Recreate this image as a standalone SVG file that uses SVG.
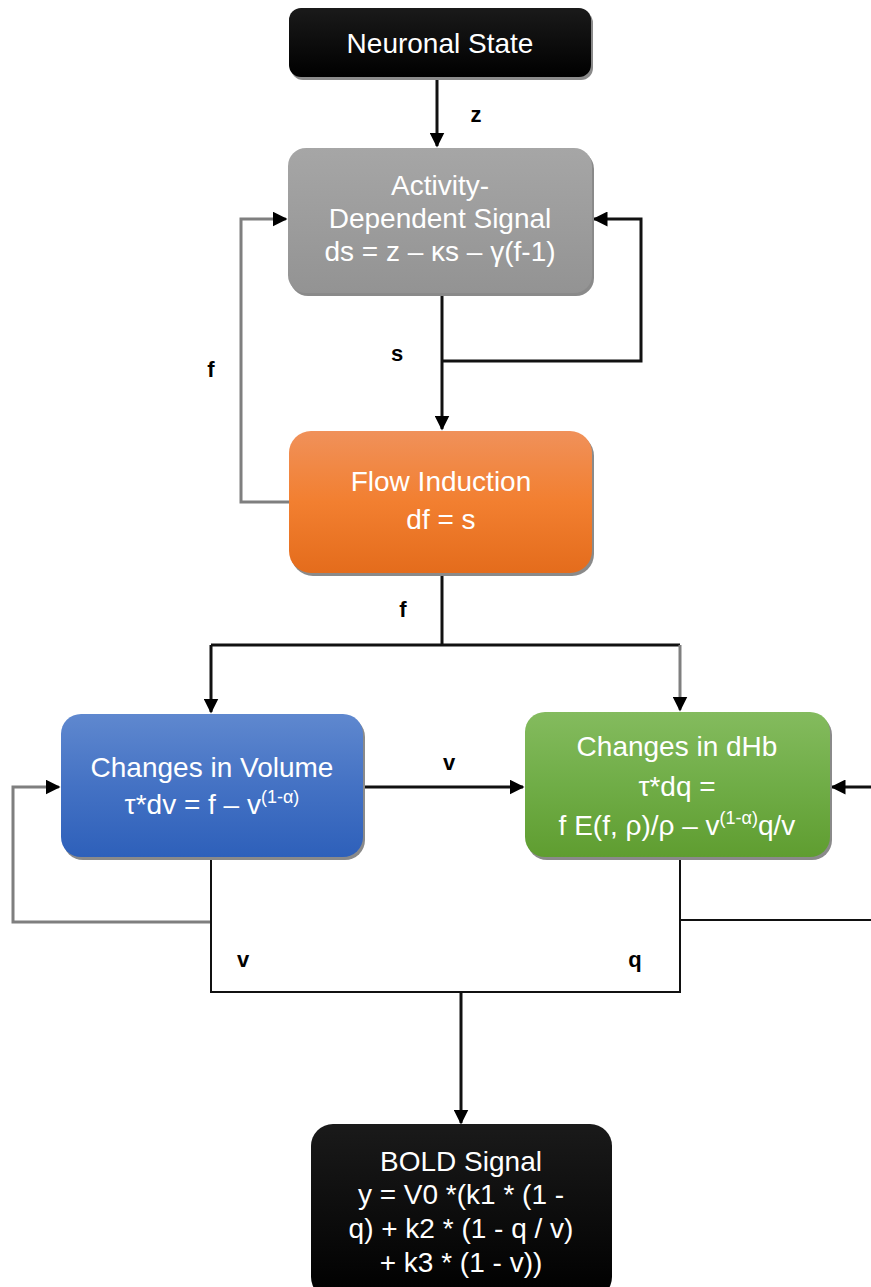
<svg xmlns="http://www.w3.org/2000/svg" width="871" height="1287" viewBox="0 0 871 1287">
<style>
.t{font-family:"Liberation Sans",Arial,sans-serif;font-size:28px;fill:#fff;text-anchor:middle}
.l{font-family:"Liberation Sans",Arial,sans-serif;font-size:22px;font-weight:bold;fill:#000;text-anchor:middle}
.c{fill:none;stroke:#111;stroke-width:3}
.g{fill:none;stroke:#7f7f7f;stroke-width:3}
.th{fill:none;stroke:#111;stroke-width:2}
.sh{fill:#8a8a8a}
</style>
<defs>
<marker id="a" viewBox="0 0 10 10" refX="9" refY="5" markerWidth="5" markerHeight="5" orient="auto" markerUnits="strokeWidth"><path d="M0,0L10,5L0,10z" fill="#000"/></marker>
<linearGradient id="gk" x1="0" y1="0" x2="0" y2="1"><stop offset="0" stop-color="#1a1a1a"/><stop offset="1" stop-color="#000"/></linearGradient>
<linearGradient id="gg" x1="0" y1="0" x2="0" y2="1"><stop offset="0" stop-color="#a6a6a6"/><stop offset="1" stop-color="#939393"/></linearGradient>
<linearGradient id="go" x1="0" y1="0" x2="0" y2="1"><stop offset="0" stop-color="#f0915a"/><stop offset="0.5" stop-color="#f27f30"/><stop offset="1" stop-color="#e46c1c"/></linearGradient>
<linearGradient id="gb" x1="0" y1="0" x2="0" y2="1"><stop offset="0" stop-color="#5f88cf"/><stop offset="0.5" stop-color="#4472c4"/><stop offset="1" stop-color="#2e60ba"/></linearGradient>
<linearGradient id="gn" x1="0" y1="0" x2="0" y2="1"><stop offset="0" stop-color="#84bb5e"/><stop offset="0.5" stop-color="#70ad47"/><stop offset="1" stop-color="#5f9d30"/></linearGradient>
</defs>
<g id="connectors">
<path class="c" d="M437,77V146" marker-end="url(#a)"/>
<path class="c" d="M442,293V429" marker-end="url(#a)"/>
<path class="c" d="M442,361H641V219H594" marker-end="url(#a)"/>
<path class="g" d="M290,502H241V219H286" marker-end="url(#a)"/>
<path class="c" d="M442,573V645"/>
<path class="c" d="M211,645H680"/>
<path class="c" d="M211,645V712" marker-end="url(#a)"/>
<path class="g" d="M680,645V710" marker-end="url(#a)"/>
<path class="c" d="M363,787H523" marker-end="url(#a)"/>
<path class="g" d="M211,922H13V787H59" marker-end="url(#a)"/>
<path class="th" d="M211,857V992H680V857"/>
<path class="th" d="M680,920H871"/>
<path class="c" d="M871,787H832" marker-end="url(#a)"/>
<path class="c" d="M461,992V1123" marker-end="url(#a)"/>
<text class="l" x="476" y="122">z</text>
<text class="l" x="397" y="361">s</text>
<text class="l" x="211" y="377">f</text>
<text class="l" x="403" y="617">f</text>
<text class="l" x="449" y="770">v</text>
<text class="l" x="243" y="967">v</text>
<text class="l" x="635" y="967">q</text>
</g>
<g id="neuronal">
<rect class="sh" x="291" y="11" width="302" height="69" rx="12"/>
<rect x="289" y="8" width="302" height="69" rx="12" fill="url(#gk)"/>
<text class="t" x="440" y="53">Neuronal State</text>
</g>
<g id="activity">
<rect class="sh" x="290" y="151" width="304" height="145" rx="18"/>
<rect x="288" y="148" width="304" height="145" rx="18" fill="url(#gg)"/>
<text class="t" x="440" y="195">Activity-</text>
<text class="t" x="440" y="228">Dependent Signal</text>
<text class="t" x="440" y="261">ds = z – κs – γ(f-1)</text>
</g>
<g id="flow">
<rect class="sh" x="291" y="434" width="303" height="142" rx="22"/>
<rect x="289" y="431" width="303" height="142" rx="22" fill="url(#go)"/>
<text class="t" x="441" y="491">Flow Induction</text>
<text class="t" x="441" y="529">df = s</text>
</g>
<g id="volume">
<rect class="sh" x="63" y="717" width="302" height="143" rx="20"/>
<rect x="61" y="714" width="302" height="143" rx="20" fill="url(#gb)"/>
<text class="t" x="212" y="777">Changes in Volume</text>
<text class="t" x="212" y="814">τ*dv = f – v<tspan font-size="18" dy="-11">(1-α)</tspan></text>
</g>
<g id="dhb">
<rect class="sh" x="527" y="715" width="305" height="145" rx="20"/>
<rect x="525" y="712" width="305" height="145" rx="20" fill="url(#gn)"/>
<text class="t" x="677" y="756">Changes in dHb</text>
<text class="t" x="677" y="796">τ*dq =</text>
<text class="t" x="677" y="835">f E(f, ρ)/ρ – v<tspan font-size="18" dy="-11">(1-α)</tspan><tspan dy="11">q/v</tspan></text>
</g>
<g id="bold">
<rect x="311" y="1124" width="301" height="175" rx="22" fill="url(#gk)"/>
<text class="t" x="461" y="1171">BOLD Signal</text>
<text class="t" x="461" y="1204">y = V0 *(k1 * (1 -</text>
<text class="t" x="461" y="1238">q) + k2 * (1 - q / v)</text>
<text class="t" x="461" y="1272">+ k3 * (1 - v))</text>
</g>
</svg>
